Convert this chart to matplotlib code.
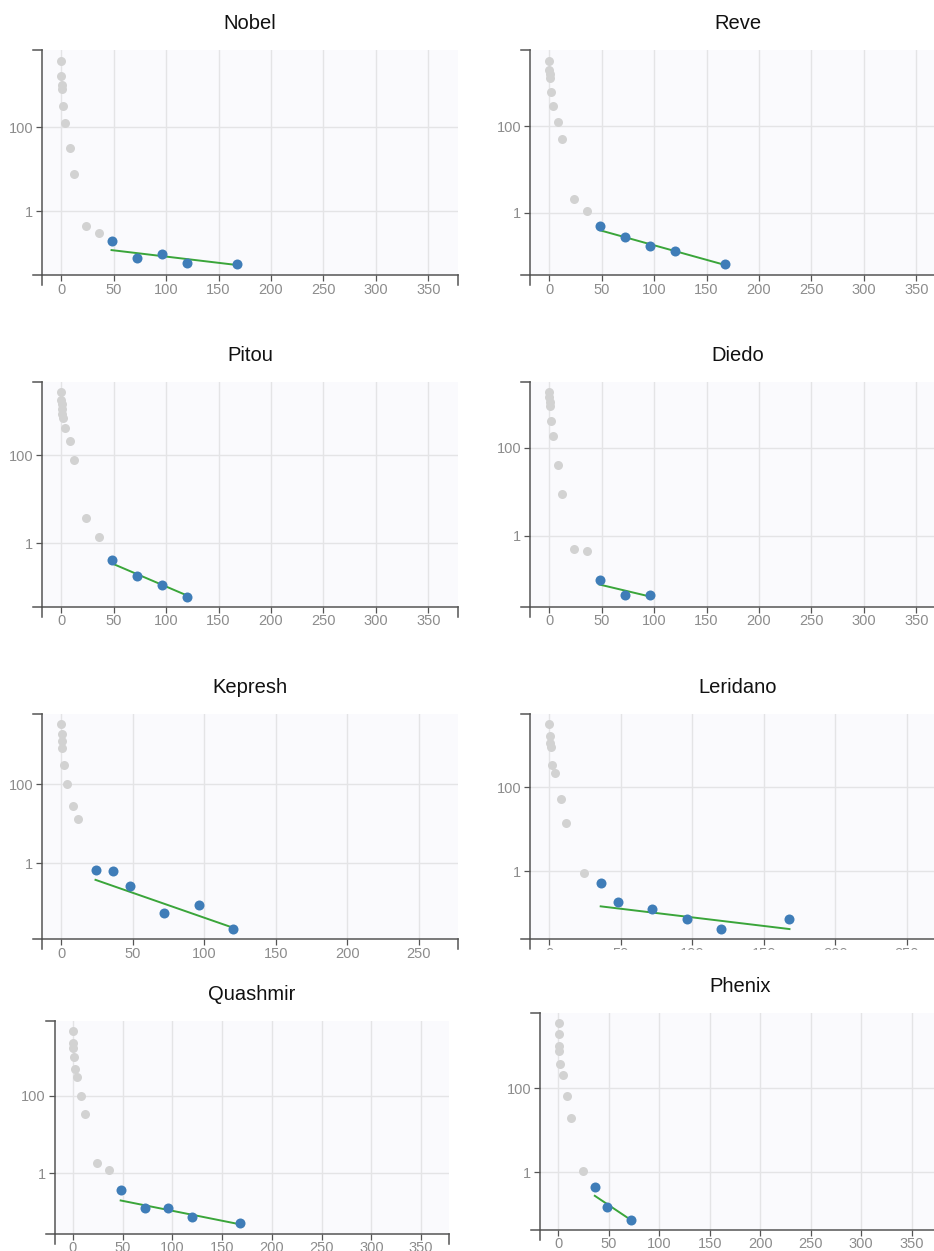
import matplotlib.pyplot as plt
import numpy as np
from matplotlib.patches import Rectangle

plt.rcParams['font.family'] = ['Liberation Sans', 'DejaVu Sans']

# one entry per panel, in reading order
names = ['Nobel', 'Reve', 'Pitou', 'Diedo', 'Kepresh', 'Leridano', 'Quashmir', 'Phenix']
x_max = [360, 360, 360, 360, 264, 264, 360, 360]

gray_times = [
    [0.083, 0.25, 0.5, 1, 2, 4, 8, 12, 24, 36],
    [0.083, 0.25, 0.5, 1, 2, 4, 8, 12, 24, 36],
    [0.083, 0.25, 0.5, 0.75, 1, 2, 4, 8, 12, 24, 36],
    [0.083, 0.25, 0.5, 1, 2, 4, 8, 12, 24, 36],
    [0.083, 0.25, 0.5, 0.75, 2, 4, 8, 12],
    [0.083, 0.25, 0.5, 1, 2, 4, 8, 12, 24],
    [0.083, 0.25, 0.5, 1, 2, 4, 8, 12, 24, 36],
    [0.083, 0.25, 0.5, 1, 2, 4, 8, 12, 24],
]
gray_vals = [
    [3880, 1620, 990, 796, 315, 127, 31.8, 7.67, 0.449, 0.301],
    [3380, 2056, 1660, 1318, 614, 290, 128, 50.9, 2.04, 1.07],
    [2704, 1778, 1442, 1151, 885, 718, 426, 208, 76.9, 3.77, 1.42],
    [1820, 1429, 1102, 877, 416, 184, 39.8, 9.08, 0.491, 0.450],
    [3404, 1892, 1276, 863, 312, 100, 28.0, 13.6],
    [3206, 1718, 1148, 938, 342, 224, 54.6, 14.0, 0.929],
    [4645, 2239, 1702, 1000, 483, 295, 96.2, 33.2, 1.80, 1.22],
    [3483, 1945, 991, 767, 371, 200, 64.6, 20.1, 1.07],
]
blue_times = [
    [48, 72, 96, 120, 168],
    [48, 72, 96, 120, 168],
    [48, 72, 96, 120],
    [48, 72, 96],
    [24, 36, 48, 72, 96, 120],
    [36, 48, 72, 96, 120, 168],
    [48, 72, 96, 120, 168],
    [36, 48, 72],
]
blue_vals = [
    [0.195, 0.0767, 0.0955, 0.0585, 0.0553],
    [0.491, 0.269, 0.166, 0.125, 0.0624],
    [0.411, 0.178, 0.115, 0.0614],
    [0.0957, 0.0439, 0.0439],
    [0.650, 0.625, 0.264, 0.0528, 0.0847, 0.0210],
    [0.536, 0.192, 0.128, 0.0752, 0.0426, 0.0752],
    [0.374, 0.124, 0.124, 0.0729, 0.0512],
    [0.449, 0.148, 0.0767],
]
# exponential fit, start and end of the green line
fit_times = [[48, 168], [48, 168], [48, 120], [48, 96], [24, 120], [36, 168], [48, 168], [36, 72]]
fit_vals = [
    [0.117, 0.0514],
    [0.390, 0.0603],
    [0.351, 0.0647],
    [0.0764, 0.0408],
    [0.375, 0.0228],
    [0.148, 0.0426],
    [0.199, 0.0483],
    [0.280, 0.0741],
]

W, H = 934, 1251
fig = plt.figure(figsize=(W / 100, H / 100), dpi=100)
fig.patch.set_facecolor('white')

# panel boxes in pixels: left, top, right, bottom
boxes = [
    (42.3, 50.3, 457.7, 275.3), (530.3, 50.3, 945.7, 275.3),
    (42.3, 382.3, 457.7, 606.7), (530.3, 382.3, 945.7, 606.7),
    (42.3, 714.0, 457.7, 939.3), (530.3, 714.0, 945.7, 939.3),
    (55.0, 1021.3, 449.0, 1234.0), (540.3, 1013.3, 940.0, 1230.0),
]

axis_col = '#555555'
for i, name in enumerate(names):
    l, t, r, b = boxes[i]
    wpx, hpx = r - l, b - t
    ax = fig.add_axes([l / W, 1 - b / H, wpx / W, hpx / H])
    ax.set_facecolor('#fafafd')
    ax.set_yscale('log')

    xm = x_max[i]
    ax.set_xlim(-0.05 * xm, 1.05 * xm)
    allv = np.log10(gray_vals[i] + blue_vals[i] + fit_vals[i])
    lo, hi = allv.min(), allv.max()
    pad = 0.05 * (hi - lo)
    ax.set_ylim(10 ** (lo - pad), 10 ** (hi + pad))

    ax.set_xticks(np.arange(0, xm, 50))
    ax.set_yticks([1, 100])
    ax.set_yticklabels(['1', '100'])
    ax.yaxis.set_minor_locator(plt.NullLocator())
    ax.grid(True, color='#e4e4e6', lw=1.0, zorder=0)
    ax.set_axisbelow(True)

    for s in ['top', 'right']:
        ax.spines[s].set_visible(False)
    for s in ['left', 'bottom']:
        ax.spines[s].set_color(axis_col)
        ax.spines[s].set_linewidth(1.1)
    ax.tick_params(length=4.0, width=0.9, color=axis_col, labelsize=10.5,
                   labelcolor='#8c8c8c')
    ax.tick_params(axis='x', pad=1.2)
    ax.tick_params(axis='y', pad=2.5)

    # outer ticks like a d3 axis domain path
    kw = dict(transform=ax.transAxes, clip_on=False, color=axis_col, lw=1.1)
    ax.plot([-9 / wpx, 0], [1, 1], **kw)
    ax.plot([-9 / wpx, 0], [0, 0], **kw)
    ax.plot([0, 0], [0, -10 / hpx], **kw)
    ax.plot([1, 1], [0, -10 / hpx], **kw)

    ax.scatter(gray_times[i], gray_vals[i], s=42, color='#d2d2d2', lw=0, zorder=2)
    ax.plot(fit_times[i], fit_vals[i], color='#3aa53a', lw=1.4, zorder=3)
    ax.scatter(blue_times[i], blue_vals[i], s=52, color='#3f7db8', lw=0, zorder=4)

    ax.set_title(name, fontsize=14.5, color='#111111', pad=15)

# the Leridano tick labels are cut off in the original tile
fig.add_artist(Rectangle((470 / W, 1 - 972 / H), 464 / W, 22 / H,
                         transform=fig.transFigure, color='white', zorder=10))

fig.savefig('out.png', dpi=100)
